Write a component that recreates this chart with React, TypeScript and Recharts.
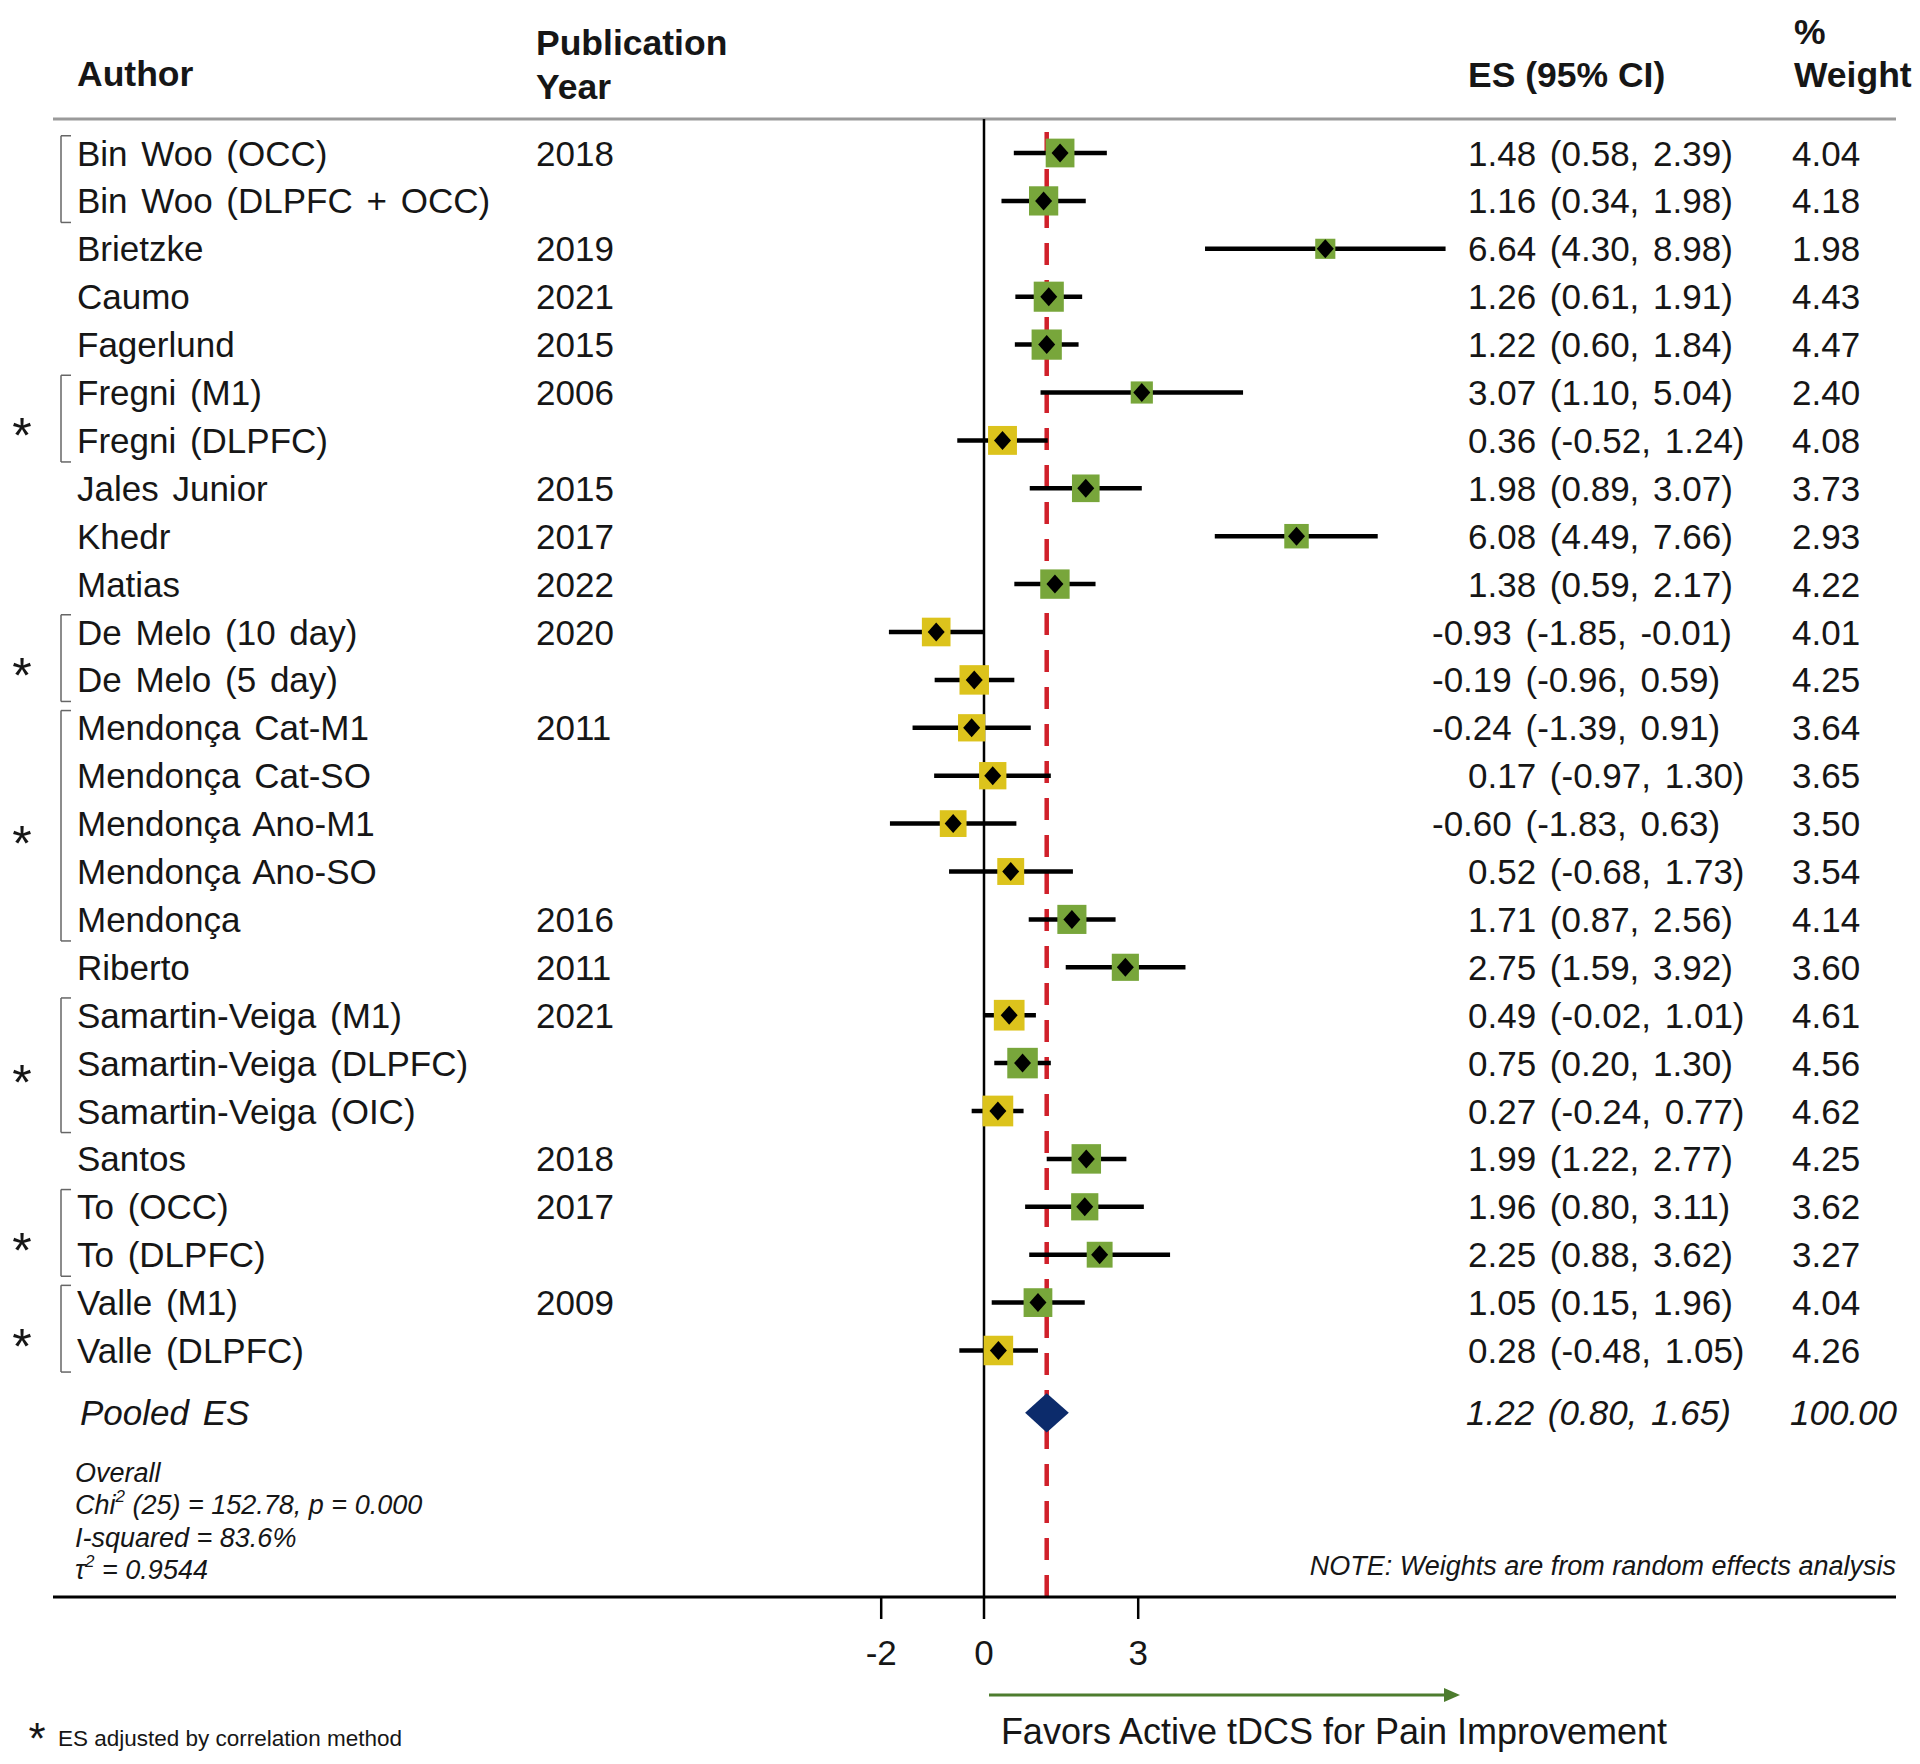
import React from 'react'
import {
  ComposedChart,
  XAxis,
  YAxis,
  Scatter,
  ErrorBar,
  Area,
  ReferenceLine,
} from 'recharts'

// studies, top to bottom
const AUTHORS = [
  'Bin Woo (OCC)',
  'Bin Woo (DLPFC + OCC)',
  'Brietzke',
  'Caumo',
  'Fagerlund',
  'Fregni (M1)',
  'Fregni (DLPFC)',
  'Jales Junior',
  'Khedr',
  'Matias',
  'De Melo (10 day)',
  'De Melo (5 day)',
  'Mendonça Cat-M1',
  'Mendonça Cat-SO',
  'Mendonça Ano-M1',
  'Mendonça Ano-SO',
  'Mendonça',
  'Riberto',
  'Samartin-Veiga (M1)',
  'Samartin-Veiga (DLPFC)',
  'Samartin-Veiga (OIC)',
  'Santos',
  'To (OCC)',
  'To (DLPFC)',
  'Valle (M1)',
  'Valle (DLPFC)',
]
const YEARS = [
  '2018', '', '2019', '2021', '2015', '2006', '', '2015', '2017', '2022', '2020', '',
  '2011', '', '', '', '2016', '2011', '2021', '', '', '2018', '2017', '', '2009', '',
]
const ES = [
  1.48, 1.16, 6.64, 1.26, 1.22, 3.07, 0.36, 1.98, 6.08, 1.38, -0.93, -0.19, -0.24, 0.17,
  -0.6, 0.52, 1.71, 2.75, 0.49, 0.75, 0.27, 1.99, 1.96, 2.25, 1.05, 0.28,
]
const LOWER = [
  0.58, 0.34, 4.3, 0.61, 0.6, 1.1, -0.52, 0.89, 4.49, 0.59, -1.85, -0.96, -1.39, -0.97,
  -1.83, -0.68, 0.87, 1.59, -0.02, 0.2, -0.24, 1.22, 0.8, 0.88, 0.15, -0.48,
]
const UPPER = [
  2.39, 1.98, 8.98, 1.91, 1.84, 5.04, 1.24, 3.07, 7.66, 2.17, -0.01, 0.59, 0.91, 1.3,
  0.63, 1.73, 2.56, 3.92, 1.01, 1.3, 0.77, 2.77, 3.11, 3.62, 1.96, 1.05,
]
const WEIGHTS = [
  4.04, 4.18, 1.98, 4.43, 4.47, 2.4, 4.08, 3.73, 2.93, 4.22, 4.01, 4.25, 3.64, 3.65,
  3.5, 3.54, 4.14, 3.6, 4.61, 4.56, 4.62, 4.25, 3.62, 3.27, 4.04, 4.26,
]

// [first row, last row, ES adjusted by correlation method]
const GROUPS: [number, number, boolean][] = [
  [0, 1, false],
  [5, 6, true],
  [10, 11, true],
  [12, 16, true],
  [18, 20, true],
  [22, 23, true],
  [24, 25, true],
]

const POOLED_ES = 1.22
const POOLED_LO = 0.8
const POOLED_HI = 1.65
const POOLED_WEIGHT = 100
const X_TICKS = [-2, 0, 3]

// layout (pixels)
const W = 1920
const H = 1764
const PLOT_LEFT = 53
const PLOT_RIGHT = 1896
const PLOT_TOP = 119
const PLOT_BOTTOM = 1597
const ZERO_PX = 984
const PX_PER_UNIT = 51.4
const ROW0_PX = 153
const ROW_PX = 47.9
const X_AXIS_H = 80

const X_MIN = (PLOT_LEFT - ZERO_PX) / PX_PER_UNIT
const X_MAX = (PLOT_RIGHT - ZERO_PX) / PX_PER_UNIT
const Y_MIN = (PLOT_TOP - ROW0_PX) / ROW_PX
const Y_MAX = (PLOT_BOTTOM - ROW0_PX) / ROW_PX
const POOLED_ROW = 26.3
const DIAMOND_HALF = 0.41 // in rows
const BRACKET_X = (61 - ZERO_PX) / PX_PER_UNIT
const BRACKET_CAP = 10 / PX_PER_UNIT

const COL_AUTHOR = 77
const COL_YEAR = 536
const COL_CI = 1468
const COL_CI_NEG = 1432
const COL_WEIGHT = 1792
const STAR_X = 22

const FONT = '"Liberation Sans", Arial, Helvetica, sans-serif'
const TEXT = '#161616'
const GREEN = '#78a63b'
const YELLOW = '#dcc31c'
const NAVY = '#0c2b6b'
const RED = '#d0202a'
const SQUARE_K = 14.3

const fmt = (v: number) => v.toFixed(2)

const rows = AUTHORS.map((author, i) => ({
  author,
  year: YEARS[i],
  x: ES[i],
  y: i,
  lo: LOWER[i],
  hi: UPPER[i],
  weight: WEIGHTS[i],
  err: [ES[i] - LOWER[i], UPPER[i] - ES[i]],
}))

const pooledDiamond = [
  { x: POOLED_LO, band: [POOLED_ROW, POOLED_ROW] },
  { x: POOLED_ES, band: [POOLED_ROW - DIAMOND_HALF, POOLED_ROW + DIAMOND_HALF] },
  { x: POOLED_HI, band: [POOLED_ROW, POOLED_ROW] },
]

const starPoints = GROUPS.filter((g) => g[2]).map((g) => ({ x: 0, y: (g[0] + g[1]) / 2 }))

const renderSquare = (props: any) => {
  const { cx, cy, payload } = props
  const s = SQUARE_K * Math.sqrt(payload.weight)
  return (
    <rect
      x={cx - s / 2}
      y={cy - s / 2}
      width={s}
      height={s}
      fill={payload.lo > 0 ? GREEN : YELLOW}
    />
  )
}

const renderMarker = (props: any) => {
  const { cx, cy } = props
  return (
    <path
      d={`M${cx} ${cy - 9.5}L${cx + 8.5} ${cy}L${cx} ${cy + 9.5}L${cx - 8.5} ${cy}Z`}
      fill="#000"
    />
  )
}

const renderRowText = (props: any) => {
  const { cy, payload } = props
  const ci = `${fmt(payload.x)} (${fmt(payload.lo)}, ${fmt(payload.hi)})`
  return (
    <g fontFamily={FONT} fontSize={35} fill={TEXT} style={{ wordSpacing: '4px' }}>
      <text x={COL_AUTHOR} y={cy} dominantBaseline="central">
        {payload.author}
      </text>
      <text x={COL_YEAR} y={cy} dominantBaseline="central">
        {payload.year}
      </text>
      <text x={payload.x < 0 ? COL_CI_NEG : COL_CI} y={cy} dominantBaseline="central">
        {ci}
      </text>
      <text x={COL_WEIGHT} y={cy} dominantBaseline="central">
        {fmt(payload.weight)}
      </text>
    </g>
  )
}

const renderPooledText = (props: any) => {
  const { cy } = props
  return (
    <g
      fontFamily={FONT}
      fontSize={35}
      fontStyle="italic"
      fill={TEXT}
      style={{ wordSpacing: '4px' }}
    >
      <text x={80} y={cy} dominantBaseline="central">
        Pooled ES
      </text>
      <text x={COL_CI - 2} y={cy} dominantBaseline="central">
        {`${fmt(POOLED_ES)} (${fmt(POOLED_LO)}, ${fmt(POOLED_HI)})`}
      </text>
      <text x={COL_WEIGHT - 2} y={cy} dominantBaseline="central">
        {fmt(POOLED_WEIGHT)}
      </text>
    </g>
  )
}

const renderStar = (props: any) => {
  const { cy } = props
  return (
    <text
      x={STAR_X}
      y={cy + 20}
      textAnchor="middle"
      dominantBaseline="central"
      fontFamily={FONT}
      fontSize={50}
      fill={TEXT}
    >
      *
    </text>
  )
}

function Overlay() {
  const header = { fontFamily: FONT, fontSize: 35.5, fontWeight: 700, fill: TEXT }
  const stat = { fontFamily: FONT, fontSize: 27, fontStyle: 'italic', fill: TEXT }
  return (
    <svg
      width={W}
      height={H}
      style={{ position: 'absolute', left: 0, top: 0, pointerEvents: 'none' }}
    >
      <text x={77} y={74} dominantBaseline="central" {...header}>Author</text>
      <text x={536} y={43} dominantBaseline="central" {...header}>Publication</text>
      <text x={536} y={87} dominantBaseline="central" {...header}>Year</text>
      <text x={1468} y={75} dominantBaseline="central" {...header}>ES (95% CI)</text>
      <text x={1794} y={32} dominantBaseline="central" {...header}>%</text>
      <text x={1794} y={75} dominantBaseline="central" {...header}>Weight</text>

      <text x={75} y={1473} dominantBaseline="central" {...stat}>Overall</text>
      <text x={75} y={1505} dominantBaseline="central" {...stat}>
        Chi<tspan fontSize={17} dy={-9}>2</tspan>
        <tspan dy={9}> (25) = 152.78, p = 0.000</tspan>
      </text>
      <text x={75} y={1538} dominantBaseline="central" {...stat}>I-squared = 83.6%</text>
      <text x={75} y={1570} dominantBaseline="central" {...stat}>
        τ<tspan fontSize={17} dy={-9}>2</tspan>
        <tspan dy={9}> = 0.9544</tspan>
      </text>
      <text x={1896} y={1566} textAnchor="end" dominantBaseline="central" {...stat}>
        NOTE: Weights are from random effects analysis
      </text>

      <line x1={989} y1={1695} x2={1448} y2={1695} stroke="#4d7c2e" strokeWidth={3} />
      <path d="M1444 1688L1460 1695L1444 1702Z" fill="#4d7c2e" />
      <text
        x={1334}
        y={1731}
        textAnchor="middle"
        dominantBaseline="central"
        fontFamily={FONT}
        fontSize={36}
        fill={TEXT}
      >
        Favors Active tDCS for Pain Improvement
      </text>

      <text
        x={37}
        y={1754}
        textAnchor="middle"
        fontFamily={FONT}
        fontSize={44}
        fill={TEXT}
      >
        *
      </text>
      <text
        x={58}
        y={1738}
        dominantBaseline="central"
        fontFamily={FONT}
        fontSize={22.5}
        fill={TEXT}
      >
        ES adjusted by correlation method
      </text>
    </svg>
  )
}

export default function App() {
  return (
    <div style={{ position: 'absolute', left: 0, top: 0, width: W, height: H, background: '#fff' }}>
      <ComposedChart
        width={W}
        height={H}
        margin={{
          top: PLOT_TOP,
          right: W - PLOT_RIGHT,
          bottom: H - PLOT_BOTTOM - X_AXIS_H,
          left: PLOT_LEFT,
        }}
      >
        <XAxis
          type="number"
          dataKey="x"
          domain={[X_MIN, X_MAX]}
          ticks={X_TICKS}
          interval={0}
          height={X_AXIS_H}
          axisLine={{ stroke: '#000', strokeWidth: 3 }}
          tickLine={{ stroke: '#000', strokeWidth: 2.5 }}
          tickSize={22}
          tickMargin={21}
          tick={{ fill: TEXT, fontSize: 35, fontFamily: FONT }}
        />
        <YAxis type="number" dataKey="y" domain={[Y_MIN, Y_MAX]} reversed hide />

        <ReferenceLine y={Y_MIN} stroke="#9a9a9a" strokeWidth={3} zIndex={-10} />
        <ReferenceLine x={0} stroke="#000" strokeWidth={2.5} zIndex={-10} />
        <ReferenceLine
          x={POOLED_ES}
          stroke={RED}
          strokeWidth={4.5}
          strokeDasharray="22 15"
          zIndex={-10}
        />

        {GROUPS.map(([first, last], i) => [
          <ReferenceLine
            key={`bv${i}`}
            segment={[
              { x: BRACKET_X, y: first - 0.36 },
              { x: BRACKET_X, y: last + 0.45 },
            ]}
            stroke="#666"
            strokeWidth={1.5}
          />,
          <ReferenceLine
            key={`bt${i}`}
            segment={[
              { x: BRACKET_X, y: first - 0.36 },
              { x: BRACKET_X + BRACKET_CAP, y: first - 0.36 },
            ]}
            stroke="#666"
            strokeWidth={1.5}
          />,
          <ReferenceLine
            key={`bb${i}`}
            segment={[
              { x: BRACKET_X, y: last + 0.45 },
              { x: BRACKET_X + BRACKET_CAP, y: last + 0.45 },
            ]}
            stroke="#666"
            strokeWidth={1.5}
          />,
        ])}

        <Area
          data={pooledDiamond}
          dataKey="band"
          type="linear"
          fill={NAVY}
          fillOpacity={1}
          stroke="none"
          isAnimationActive={false}
        />
        <Scatter data={rows} dataKey="y" shape={renderSquare} isAnimationActive={false} />
        <Scatter data={rows} dataKey="y" shape={renderMarker} isAnimationActive={false}>
          <ErrorBar
            dataKey="err"
            direction="x"
            width={0}
            stroke="#000"
            strokeWidth={4.5}
            isAnimationActive={false}
          />
        </Scatter>
        <Scatter data={rows} dataKey="y" shape={renderRowText} isAnimationActive={false} />
        <Scatter
          data={[{ x: POOLED_ES, y: POOLED_ROW }]}
          dataKey="y"
          shape={renderPooledText}
          isAnimationActive={false}
        />
        <Scatter data={starPoints} dataKey="y" shape={renderStar} isAnimationActive={false} />
      </ComposedChart>
      <Overlay />
    </div>
  )
}
